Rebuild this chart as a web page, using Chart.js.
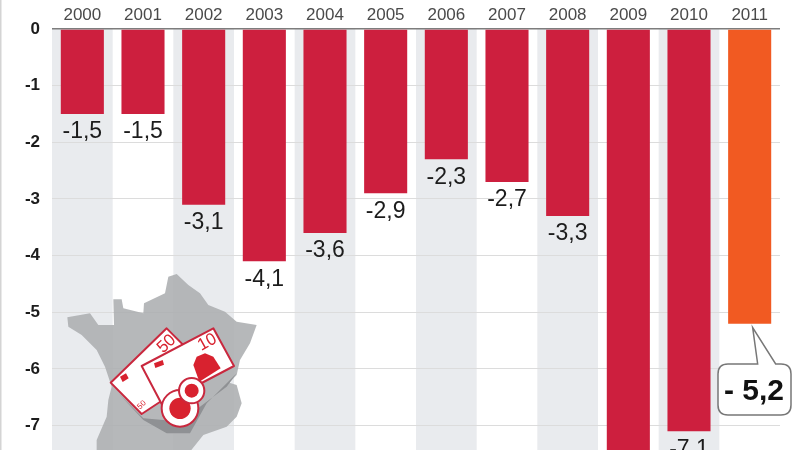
<!DOCTYPE html>
<html>
<head>
<meta charset="utf-8">
<style>
  html, body { margin: 0; padding: 0; background: #fff; overflow: hidden; }
  #chart { display: block; filter: blur(0.5px); }
</style>
<script src="https://cdn.jsdelivr.net/npm/chart.js@4"></script>
</head>
<body>
<canvas id="chart" width="800" height="450"></canvas>
<script>
document.addEventListener("DOMContentLoaded", function() {

    const years = ['2000', '2001', '2002', '2003', '2004', '2005', '2006', '2007', '2008', '2009', '2010', '2011'];
    const values = [-1.5, -1.5, -3.1, -4.1, -3.6, -2.9, -2.3, -2.7, -3.3, -7.5, -7.1, -5.2];

    const RED = '#cd1f3e';
    const ORANGE = '#f15a22';
    const FONT = '"Liberation Sans", Arial, sans-serif';

    // grey band behind every other year
    const zebra = {
        id: 'zebra',
        beforeDraw(chart) {
            const { ctx, chartArea, scales } = chart;
            const step = scales.x.width / years.length;
            ctx.save();
            ctx.fillStyle = '#e9ebee';
            years.forEach((y, i) => {
                if (i % 2 === 0) {
                    ctx.fillRect(scales.x.getPixelForValue(i) - step / 2, chartArea.top, step, chartArea.bottom - chartArea.top);
                }
            });
            ctx.fillStyle = '#d4d4d4';
            ctx.fillRect(0, 0, 1.5, 450);
            ctx.restore();
        }
    };

    // map of France with the banknotes, positions taken from the zoomed crop
    const pt = (x, y) => [40 + x / 3, 260 + y / 3];

    function poly(ctx, pts) {
        ctx.beginPath();
        pts.forEach((p, i) => {
            const q = pt(p[0], p[1]);
            if (i === 0) ctx.moveTo(q[0], q[1]); else ctx.lineTo(q[0], q[1]);
        });
        ctx.closePath();
    }

    function circle(ctx, x, y, r) {
        const q = pt(x, y);
        ctx.beginPath();
        ctx.arc(q[0], q[1], r / 3, 0, Math.PI * 2);
    }

    const france = [[82, 172], [150, 160], [175, 195], [222, 195], [220, 118], [245, 118], [250, 145], [310, 160],
        [312, 130], [375, 100], [385, 50], [410, 42], [445, 75], [480, 100], [505, 135], [555, 155], [590, 185],
        [650, 195], [630, 250], [600, 300], [590, 345], [568, 368], [590, 375], [605, 430], [590, 470], [560, 500],
        [490, 525], [450, 575], [170, 575], [170, 540], [200, 470], [205, 420], [215, 380], [195, 320], [170, 270],
        [125, 225], [85, 200]];

    const mapPlugin = {
        id: 'mapPlugin',
        beforeDatasetsDraw(chart) {
            const ctx = chart.ctx;
            ctx.save();
            ctx.globalAlpha = 0.88;
            ctx.fillStyle = '#acaeb1';
            poly(ctx, france);
            ctx.fill();
            ctx.globalAlpha = 1;

            // shadow under the notes
            ctx.fillStyle = '#8f9194';
            poly(ctx, [[235, 400], [310, 480], [380, 520], [450, 520], [500, 430], [590, 340], [560, 380], [480, 440], [430, 490], [370, 480], [310, 475]]);
            ctx.fill();

            ctx.lineJoin = 'round';
            ctx.lineWidth = 2;
            ctx.strokeStyle = '#c9283e';

            // 50 note
            ctx.fillStyle = '#fff';
            poly(ctx, [[212, 368], [380, 205], [505, 330], [305, 462]]);
            ctx.fill();
            ctx.stroke();

            // 10 note
            poly(ctx, [[305, 318], [520, 205], [582, 318], [365, 432]]);
            ctx.fill();
            ctx.stroke();

            ctx.fillStyle = '#d8222f';
            poly(ctx, [[240, 350], [258, 340], [266, 355], [248, 366]]);
            ctx.fill();
            poly(ctx, [[342, 310], [368, 300], [372, 314], [346, 324]]);
            ctx.fill();
            poly(ctx, [[478, 365], [460, 315], [470, 290], [495, 280], [520, 290], [542, 325]]);
            ctx.fill();

            ctx.textAlign = 'center';
            ctx.textBaseline = 'middle';
            [['50', 380, 252, -0.75, 17], ['10', 502, 247, -0.5, 17], ['50', 305, 435, -0.75, 8]].forEach(t => {
                const q = pt(t[1], t[2]);
                ctx.save();
                ctx.translate(q[0], q[1]);
                ctx.rotate(t[3]);
                ctx.font = t[4] + 'px ' + FONT;
                ctx.fillText(t[0], 0, 0);
                ctx.restore();
            });

            // coins
            [[420, 445, 55, 32], [455, 392, 38, 21]].forEach(c => {
                ctx.fillStyle = '#fff';
                circle(ctx, c[0], c[1], c[2]);
                ctx.fill();
                ctx.stroke();
                ctx.fillStyle = '#d8222f';
                circle(ctx, c[0], c[1], c[3]);
                ctx.fill();
            });
            ctx.restore();
        }
    };

    // value under each bar and the 2011 callout
    const valueLabels = {
        id: 'valueLabels',
        afterDatasetsDraw(chart) {
            const { ctx, scales } = chart;
            ctx.save();
            ctx.fillStyle = '#1c1c1c';
            ctx.textAlign = 'center';
            ctx.textBaseline = 'middle';
            ctx.font = '23px ' + FONT;
            values.forEach((v, i) => {
                if (years[i] === '2011') return;
                ctx.fillText(String(v).replace('.', ','), scales.x.getPixelForValue(i), scales.y.getPixelForValue(v) + 18);
            });

            const cx = scales.x.getPixelForValue(11);
            const bottom = scales.y.getPixelForValue(-5.2);
            ctx.beginPath();
            ctx.moveTo(cx + 3, bottom + 4);
            ctx.lineTo(cx + 8, 364);
            ctx.lineTo(728, 364);
            ctx.quadraticCurveTo(718, 364, 718, 374);
            ctx.lineTo(718, 405);
            ctx.quadraticCurveTo(718, 415, 728, 415);
            ctx.lineTo(781, 415);
            ctx.quadraticCurveTo(791, 415, 791, 405);
            ctx.lineTo(791, 374);
            ctx.quadraticCurveTo(791, 364, 781, 364);
            ctx.lineTo(cx + 26, 364);
            ctx.closePath();
            ctx.fillStyle = '#fff';
            ctx.fill();
            ctx.lineWidth = 1.5;
            ctx.strokeStyle = '#777';
            ctx.stroke();
            ctx.fillStyle = '#111';
            ctx.font = 'bold 30px ' + FONT;
            ctx.fillText('- 5,2', 754, 392);
            ctx.restore();
        }
    };

    new Chart(document.getElementById('chart'), {
        type: 'bar',
        data: {
            labels: years,
            datasets: [{
                data: values,
                backgroundColor: years.map(y => y === '2011' ? ORANGE : RED),
                borderWidth: 0,
                categoryPercentage: 1,
                barPercentage: 0.71
            }]
        },
        options: {
            responsive: false,
            animation: false,
            devicePixelRatio: 1,
            layout: { padding: { left: 0, right: 20, top: 0, bottom: 0 } },
            plugins: { legend: { display: false }, tooltip: { enabled: false } },
            scales: {
                x: {
                    position: 'top',
                    afterFit: s => { s.height = 29; },
                    grid: { display: false, drawTicks: false },
                    border: { display: false },
                    ticks: {
                        color: '#4a4a4a',
                        font: { family: FONT, size: 17 },
                        padding: 3,
                        maxRotation: 0
                    }
                },
                y: {
                    min: -7.43,
                    max: 0,
                    afterFit: s => { s.width = 52; s.paddingTop = 0; s.paddingBottom = 0; },
                    afterBuildTicks: s => {
                        s.ticks = [0, -1, -2, -3, -4, -5, -6, -7].map(v => ({ value: v }));
                    },
                    grid: {
                        color: ctx => ctx.tick && ctx.tick.value === 0 ? '#7d7d7d' : '#dcdcdc',
                        lineWidth: ctx => ctx.tick && ctx.tick.value === 0 ? 1.5 : 1,
                        drawTicks: false
                    },
                    border: { display: false },
                    ticks: {
                        color: '#1c1c1c',
                        font: { family: FONT, size: 17, weight: 'bold' },
                        padding: 12,
                        callback: v => String(v)
                    }
                }
            }
        },
        plugins: [zebra, mapPlugin, valueLabels]
    });
});
</script>
</body>
</html>
